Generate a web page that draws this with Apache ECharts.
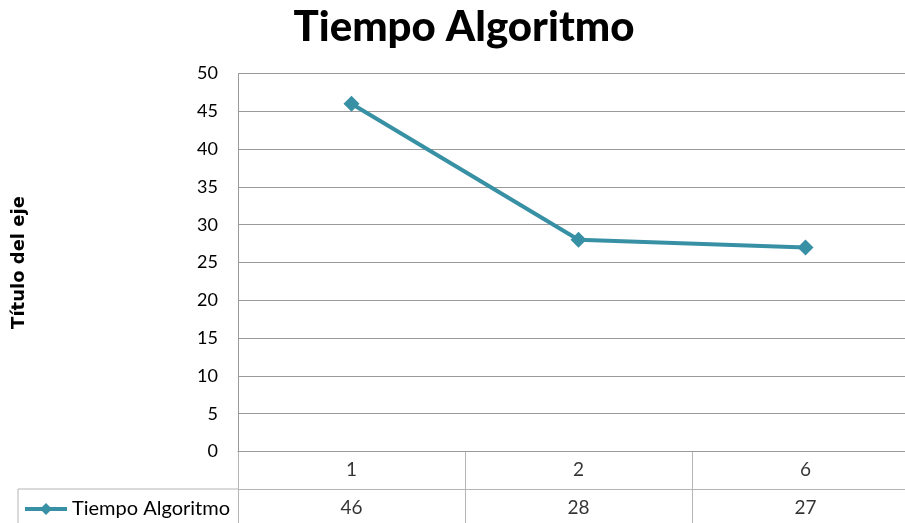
<!DOCTYPE html>
<html>
<head>
<meta charset="utf-8">
<script src="https://cdn.jsdelivr.net/npm/echarts@6/dist/echarts.min.js"></script>
<style>
  html, body { margin: 0; padding: 0; background: #fff; }
  #chart { width: 905px; height: 523px; }
</style>
</head>
<body>
<div id="chart"></div>
<script>
// Chart data
const categories = ['1', '2', '6'];
const seriesName = 'Tiempo Algoritmo';
const tiempos = [46, 28, 27];
const yTicks = { min: 0, max: 50, interval: 5 };
const tableRows = ['cat', 'val'];

const FONT = 'Lato, "Open Sans", sans-serif';
const LINE_COLOR = '#3890A5';
const GRID_COLOR = '#9a9a9a';
const TABLE_COLOR = '#b5b5b5';

const chart = echarts.init(document.getElementById('chart'));

// Plot area runs slightly past the right edge of the canvas, like the data table under it
const PLOT_LEFT = 238;
const PLOT_WIDTH = 681;

chart.setOption({
  animation: false,
  title: {
    text: 'Tiempo Algoritmo',
    left: 459,
    textAlign: 'center',
    top: 1,
    textStyle: { fontFamily: FONT, fontWeight: 900, fontSize: 42, color: '#000' }
  },
  legend: {
    data: [seriesName],
    left: 18,
    top: 494,
    itemWidth: 42,
    itemHeight: 15,
    itemGap: 2,
    lineStyle: { width: 4 },
    textStyle: { fontFamily: FONT, fontSize: 20, color: '#000' }
  },
  grid: [
    { left: PLOT_LEFT, width: PLOT_WIDTH, top: 73.5, bottom: 71.5, containLabel: false, outerBoundsMode: 'none' },
    { left: PLOT_LEFT, width: PLOT_WIDTH, top: 451.5, height: 75, containLabel: false, outerBoundsMode: 'none' }
  ],
  xAxis: [
    {
      type: 'category', gridIndex: 0, data: categories, boundaryGap: true,
      axisLine: { show: true, lineStyle: { color: GRID_COLOR, width: 1 } },
      axisTick: { show: false }, axisLabel: { show: false }, splitLine: { show: false }
    },
    {
      type: 'category', gridIndex: 1, data: categories, boundaryGap: true,
      axisLine: { show: false }, axisTick: { show: false }, axisLabel: { show: false },
      splitLine: { show: true, interval: 0, lineStyle: { color: TABLE_COLOR, width: 1 } }
    }
  ],
  yAxis: [
    {
      type: 'value', gridIndex: 0, min: yTicks.min, max: yTicks.max, interval: yTicks.interval,
      name: 'Título del eje', nameLocation: 'middle', nameGap: 210,
      nameTextStyle: { fontFamily: '"DejaVu Sans", Verdana, sans-serif', fontWeight: 'bold', fontSize: 18, color: '#000' },
      axisLine: { show: true, lineStyle: { color: GRID_COLOR, width: 1 } },
      axisTick: { show: false },
      axisLabel: { fontFamily: FONT, fontSize: 18, color: '#000', margin: 20 },
      splitLine: { show: true, lineStyle: { color: GRID_COLOR, width: 1 } }
    },
    {
      type: 'category', gridIndex: 1, data: tableRows, inverse: true, boundaryGap: true,
      axisLine: { show: false }, axisTick: { show: false }, axisLabel: { show: false },
      splitLine: { show: true, interval: 0, lineStyle: { color: TABLE_COLOR, width: 1 } }
    }
  ],
  graphic: [
    {
      type: 'polyline',
      shape: { points: [[18, 530], [18, 489], [238, 489]] },
      style: { stroke: TABLE_COLOR, lineWidth: 1, fill: null },
      silent: true
    }
  ],
  series: [
    {
      name: seriesName,
      type: 'line',
      xAxisIndex: 0, yAxisIndex: 0,
      data: tiempos,
      symbol: 'diamond',
      symbolSize: 16,
      showAllSymbol: true,
      lineStyle: { color: LINE_COLOR, width: 4 },
      itemStyle: { color: LINE_COLOR, borderWidth: 0 }
    },
    {
      type: 'scatter',
      xAxisIndex: 1, yAxisIndex: 1,
      data: categories.map((c, i) => [i, 'cat']),
      symbolSize: 0,
      silent: true,
      label: {
        show: true, position: 'inside',
        formatter: p => categories[p.dataIndex],
        fontFamily: FONT, fontSize: 19, color: '#000'
      }
    },
    {
      type: 'scatter',
      xAxisIndex: 1, yAxisIndex: 1,
      data: tiempos.map((v, i) => [i, 'val']),
      symbolSize: 0,
      silent: true,
      label: {
        show: true, position: 'inside',
        formatter: p => String(tiempos[p.dataIndex]),
        fontFamily: FONT, fontSize: 19, color: '#000'
      }
    }
  ]
});
</script>
</body>
</html>
